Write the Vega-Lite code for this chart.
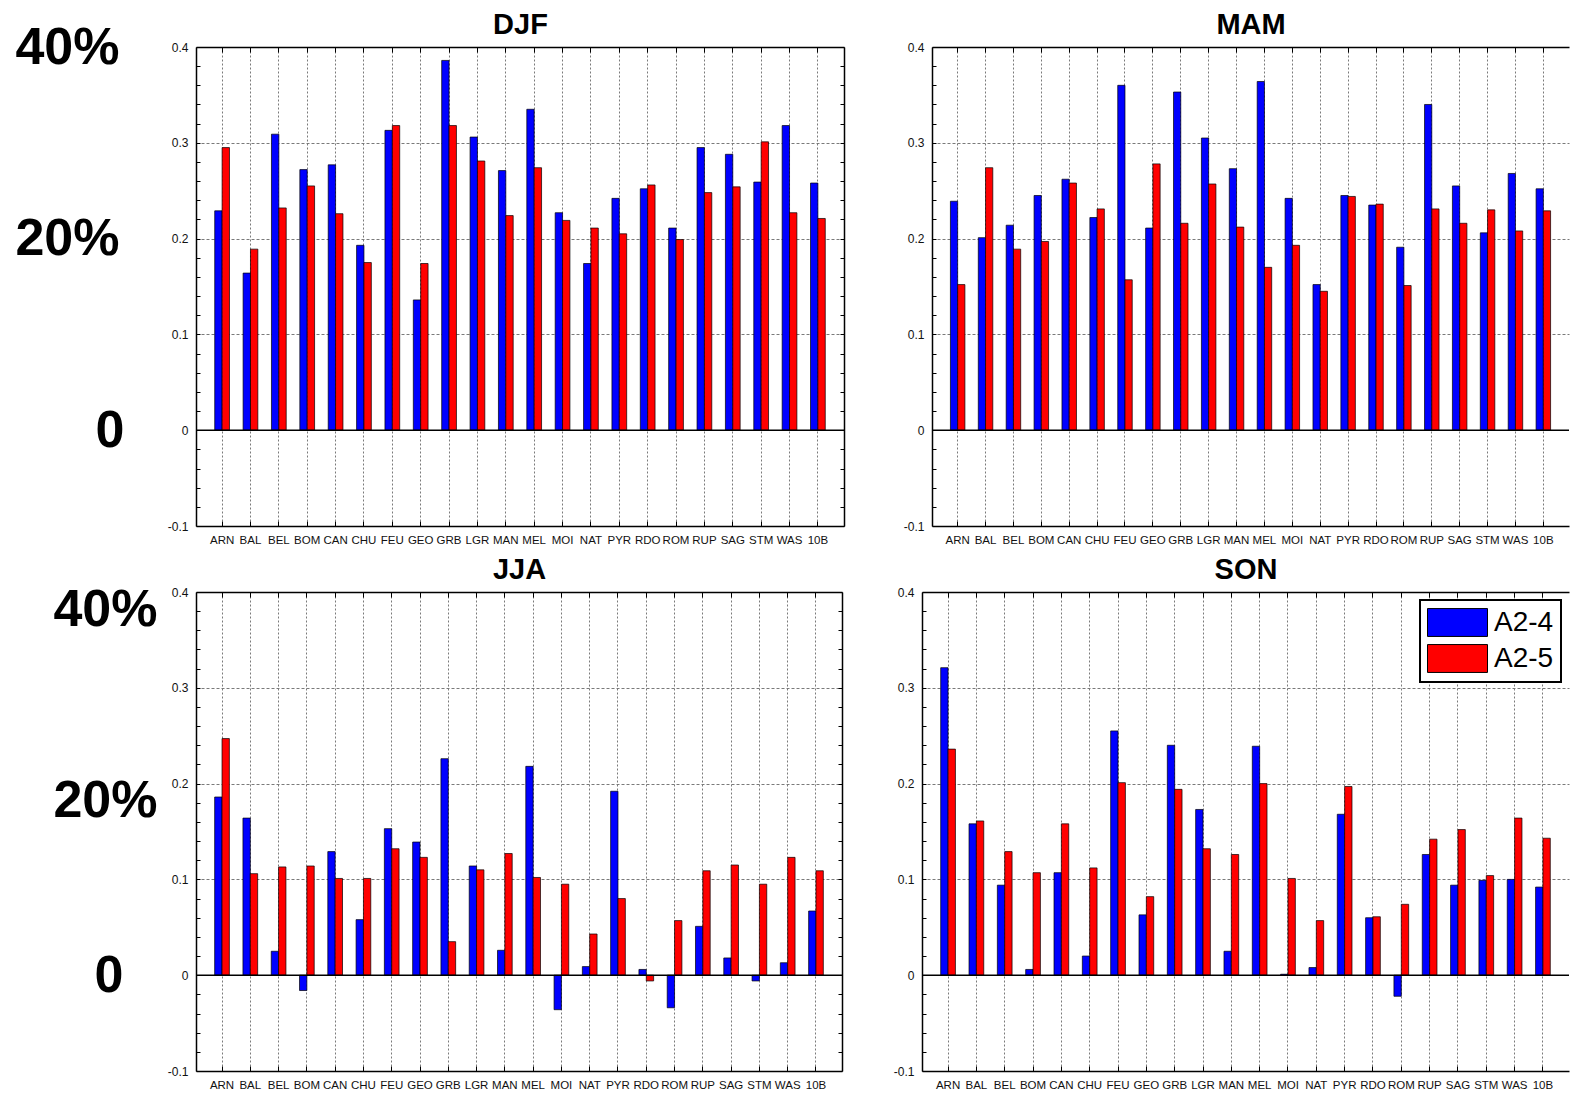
{
"$schema": "https://vega.github.io/schema/vega-lite/v6.json",
"padding": {"left": 0, "top": 10, "right": 0, "bottom": 0},
"config": {"font": "Liberation Sans", "view": {"stroke": null}, "axis": {"labelFont": "Liberation Sans", "titleFont": "Liberation Sans"}, "legend": {"labelFont": "Liberation Sans", "strokeWidth": 2}},
"datasets": {
"DJF": [
{"station":"ARN","run":"A2-4","value":0.229},{"station":"ARN","run":"A2-5","value":0.295},
{"station":"BAL","run":"A2-4","value":0.164},{"station":"BAL","run":"A2-5","value":0.189},
{"station":"BEL","run":"A2-4","value":0.309},{"station":"BEL","run":"A2-5","value":0.232},
{"station":"BOM","run":"A2-4","value":0.272},{"station":"BOM","run":"A2-5","value":0.255},
{"station":"CAN","run":"A2-4","value":0.277},{"station":"CAN","run":"A2-5","value":0.226},
{"station":"CHU","run":"A2-4","value":0.193},{"station":"CHU","run":"A2-5","value":0.175},
{"station":"FEU","run":"A2-4","value":0.313},{"station":"FEU","run":"A2-5","value":0.318},
{"station":"GEO","run":"A2-4","value":0.136},{"station":"GEO","run":"A2-5","value":0.174},
{"station":"GRB","run":"A2-4","value":0.386},{"station":"GRB","run":"A2-5","value":0.318},
{"station":"LGR","run":"A2-4","value":0.306},{"station":"LGR","run":"A2-5","value":0.281},
{"station":"MAN","run":"A2-4","value":0.271},{"station":"MAN","run":"A2-5","value":0.224},
{"station":"MEL","run":"A2-4","value":0.335},{"station":"MEL","run":"A2-5","value":0.274},
{"station":"MOI","run":"A2-4","value":0.227},{"station":"MOI","run":"A2-5","value":0.219},
{"station":"NAT","run":"A2-4","value":0.174},{"station":"NAT","run":"A2-5","value":0.211},
{"station":"PYR","run":"A2-4","value":0.242},{"station":"PYR","run":"A2-5","value":0.205},
{"station":"RDO","run":"A2-4","value":0.252},{"station":"RDO","run":"A2-5","value":0.256},
{"station":"ROM","run":"A2-4","value":0.211},{"station":"ROM","run":"A2-5","value":0.199},
{"station":"RUP","run":"A2-4","value":0.295},{"station":"RUP","run":"A2-5","value":0.248},
{"station":"SAG","run":"A2-4","value":0.288},{"station":"SAG","run":"A2-5","value":0.254},
{"station":"STM","run":"A2-4","value":0.259},{"station":"STM","run":"A2-5","value":0.301},
{"station":"WAS","run":"A2-4","value":0.318},{"station":"WAS","run":"A2-5","value":0.227},
{"station":"10B","run":"A2-4","value":0.258},{"station":"10B","run":"A2-5","value":0.221}
],
"MAM": [
{"station":"ARN","run":"A2-4","value":0.239},{"station":"ARN","run":"A2-5","value":0.152},
{"station":"BAL","run":"A2-4","value":0.201},{"station":"BAL","run":"A2-5","value":0.274},
{"station":"BEL","run":"A2-4","value":0.214},{"station":"BEL","run":"A2-5","value":0.189},
{"station":"BOM","run":"A2-4","value":0.245},{"station":"BOM","run":"A2-5","value":0.197},
{"station":"CAN","run":"A2-4","value":0.262},{"station":"CAN","run":"A2-5","value":0.258},
{"station":"CHU","run":"A2-4","value":0.222},{"station":"CHU","run":"A2-5","value":0.231},
{"station":"FEU","run":"A2-4","value":0.360},{"station":"FEU","run":"A2-5","value":0.157},
{"station":"GEO","run":"A2-4","value":0.211},{"station":"GEO","run":"A2-5","value":0.278},
{"station":"GRB","run":"A2-4","value":0.353},{"station":"GRB","run":"A2-5","value":0.216},
{"station":"LGR","run":"A2-4","value":0.305},{"station":"LGR","run":"A2-5","value":0.257},
{"station":"MAN","run":"A2-4","value":0.273},{"station":"MAN","run":"A2-5","value":0.212},
{"station":"MEL","run":"A2-4","value":0.364},{"station":"MEL","run":"A2-5","value":0.170},
{"station":"MOI","run":"A2-4","value":0.242},{"station":"MOI","run":"A2-5","value":0.193},
{"station":"NAT","run":"A2-4","value":0.152},{"station":"NAT","run":"A2-5","value":0.145},
{"station":"PYR","run":"A2-4","value":0.245},{"station":"PYR","run":"A2-5","value":0.244},
{"station":"RDO","run":"A2-4","value":0.235},{"station":"RDO","run":"A2-5","value":0.236},
{"station":"ROM","run":"A2-4","value":0.191},{"station":"ROM","run":"A2-5","value":0.151},
{"station":"RUP","run":"A2-4","value":0.340},{"station":"RUP","run":"A2-5","value":0.231},
{"station":"SAG","run":"A2-4","value":0.255},{"station":"SAG","run":"A2-5","value":0.216},
{"station":"STM","run":"A2-4","value":0.206},{"station":"STM","run":"A2-5","value":0.230},
{"station":"WAS","run":"A2-4","value":0.268},{"station":"WAS","run":"A2-5","value":0.208},
{"station":"10B","run":"A2-4","value":0.252},{"station":"10B","run":"A2-5","value":0.229}
],
"JJA": [
{"station":"ARN","run":"A2-4","value":0.186},{"station":"ARN","run":"A2-5","value":0.247},
{"station":"BAL","run":"A2-4","value":0.164},{"station":"BAL","run":"A2-5","value":0.106},
{"station":"BEL","run":"A2-4","value":0.025},{"station":"BEL","run":"A2-5","value":0.113},
{"station":"BOM","run":"A2-4","value":-0.016},{"station":"BOM","run":"A2-5","value":0.114},
{"station":"CAN","run":"A2-4","value":0.129},{"station":"CAN","run":"A2-5","value":0.101},
{"station":"CHU","run":"A2-4","value":0.058},{"station":"CHU","run":"A2-5","value":0.101},
{"station":"FEU","run":"A2-4","value":0.153},{"station":"FEU","run":"A2-5","value":0.132},
{"station":"GEO","run":"A2-4","value":0.139},{"station":"GEO","run":"A2-5","value":0.123},
{"station":"GRB","run":"A2-4","value":0.226},{"station":"GRB","run":"A2-5","value":0.035},
{"station":"LGR","run":"A2-4","value":0.114},{"station":"LGR","run":"A2-5","value":0.110},
{"station":"MAN","run":"A2-4","value":0.026},{"station":"MAN","run":"A2-5","value":0.127},
{"station":"MEL","run":"A2-4","value":0.218},{"station":"MEL","run":"A2-5","value":0.102},
{"station":"MOI","run":"A2-4","value":-0.036},{"station":"MOI","run":"A2-5","value":0.095},
{"station":"NAT","run":"A2-4","value":0.009},{"station":"NAT","run":"A2-5","value":0.043},
{"station":"PYR","run":"A2-4","value":0.192},{"station":"PYR","run":"A2-5","value":0.080},
{"station":"RDO","run":"A2-4","value":0.006},{"station":"RDO","run":"A2-5","value":-0.006},
{"station":"ROM","run":"A2-4","value":-0.034},{"station":"ROM","run":"A2-5","value":0.057},
{"station":"RUP","run":"A2-4","value":0.051},{"station":"RUP","run":"A2-5","value":0.109},
{"station":"SAG","run":"A2-4","value":0.018},{"station":"SAG","run":"A2-5","value":0.115},
{"station":"STM","run":"A2-4","value":-0.006},{"station":"STM","run":"A2-5","value":0.095},
{"station":"WAS","run":"A2-4","value":0.013},{"station":"WAS","run":"A2-5","value":0.123},
{"station":"10B","run":"A2-4","value":0.067},{"station":"10B","run":"A2-5","value":0.109}
],
"SON": [
{"station":"ARN","run":"A2-4","value":0.321},{"station":"ARN","run":"A2-5","value":0.236},
{"station":"BAL","run":"A2-4","value":0.158},{"station":"BAL","run":"A2-5","value":0.161},
{"station":"BEL","run":"A2-4","value":0.094},{"station":"BEL","run":"A2-5","value":0.129},
{"station":"BOM","run":"A2-4","value":0.006},{"station":"BOM","run":"A2-5","value":0.107},
{"station":"CAN","run":"A2-4","value":0.107},{"station":"CAN","run":"A2-5","value":0.158},
{"station":"CHU","run":"A2-4","value":0.020},{"station":"CHU","run":"A2-5","value":0.112},
{"station":"FEU","run":"A2-4","value":0.255},{"station":"FEU","run":"A2-5","value":0.201},
{"station":"GEO","run":"A2-4","value":0.063},{"station":"GEO","run":"A2-5","value":0.082},
{"station":"GRB","run":"A2-4","value":0.240},{"station":"GRB","run":"A2-5","value":0.194},
{"station":"LGR","run":"A2-4","value":0.173},{"station":"LGR","run":"A2-5","value":0.132},
{"station":"MAN","run":"A2-4","value":0.025},{"station":"MAN","run":"A2-5","value":0.126},
{"station":"MEL","run":"A2-4","value":0.239},{"station":"MEL","run":"A2-5","value":0.200},
{"station":"MOI","run":"A2-4","value":0.001},{"station":"MOI","run":"A2-5","value":0.101},
{"station":"NAT","run":"A2-4","value":0.008},{"station":"NAT","run":"A2-5","value":0.057},
{"station":"PYR","run":"A2-4","value":0.168},{"station":"PYR","run":"A2-5","value":0.197},
{"station":"RDO","run":"A2-4","value":0.060},{"station":"RDO","run":"A2-5","value":0.061},
{"station":"ROM","run":"A2-4","value":-0.022},{"station":"ROM","run":"A2-5","value":0.074},
{"station":"RUP","run":"A2-4","value":0.126},{"station":"RUP","run":"A2-5","value":0.142},
{"station":"SAG","run":"A2-4","value":0.094},{"station":"SAG","run":"A2-5","value":0.152},
{"station":"STM","run":"A2-4","value":0.099},{"station":"STM","run":"A2-5","value":0.104},
{"station":"WAS","run":"A2-4","value":0.100},{"station":"WAS","run":"A2-5","value":0.164},
{"station":"10B","run":"A2-4","value":0.092},{"station":"10B","run":"A2-5","value":0.143}
]
},
"resolve": {"scale": {"color": "independent", "xOffset": "independent"}},
"spacing": 9,
"vconcat": [
{
"spacing": 57,
"resolve": {"scale": {"color": "independent", "xOffset": "independent"}},
"hconcat": [
{
"width": 648, "height": 479,
"data": {"name": "DJF"},
"resolve": {"axis": {"x": "independent", "y": "independent"}},
"layer": [
{"mark": {"type": "bar", "stroke": "black", "strokeWidth": 0.7},
 "encoding": {
  "x": {"field": "station", "type": "nominal", "scale": {"domain": ["ARN","BAL","BEL","BOM","CAN","CHU","FEU","GEO","GRB","LGR","MAN","MEL","MOI","NAT","PYR","RDO","ROM","RUP","SAG","STM","WAS","10B"], "paddingInner": 0.48, "paddingOuter": 0.66},
   "axis": {"orient": "bottom", "title": null, "labelAngle": 0, "labelFontSize": 11.5, "labelColor": "#111", "labelPadding": 13, "labelOverlap": false, "tickSize": -5, "tickColor": "black", "domainColor": "black", "domainWidth": 1.5, "grid": true, "gridColor": "#7a7a7a", "gridDash": [2, 2], "bandPosition": 0.5}},
  "xOffset": {"field": "run", "type": "nominal", "scale": {"domain": ["A2-4", "A2-5"], "paddingInner": 0, "paddingOuter": 0}},
  "y": {"field": "value", "type": "quantitative", "scale": {"domain": [-0.1, 0.4], "nice": false},
   "axis": {"orient": "left", "title": null, "values": [-0.1,-0.08,-0.06,-0.04,-0.02,0,0.02,0.04,0.06,0.08,0.1,0.12,0.14,0.16,0.18,0.2,0.22,0.24,0.26,0.28,0.3,0.32,0.34,0.36,0.38,0.4], "labelExpr": "indexof([-0.1,0,0.1,0.2,0.3,0.4], datum.value) >= 0 ? '' + datum.value : ''", "labelFontSize": 12, "labelColor": "#111", "labelPadding": 12, "labelOverlap": false, "tickSize": -4, "tickColor": "black", "domainColor": "black", "domainWidth": 1.5, "grid": true, "gridColor": "#7a7a7a", "gridDash": [3, 2], "gridOpacity": {"condition": {"test": "indexof([0.1,0.2,0.3], datum.value) >= 0", "value": 1}, "value": 0}}},
  "color": {"field": "run", "type": "nominal", "scale": {"domain": ["A2-4", "A2-5"], "range": ["#0000ff", "#ff0000"]}, "legend": null}
 }},
{"mark": {"type": "point", "opacity": 0},
 "encoding": {
  "x": {"field": "station", "type": "nominal", "scale": {"domain": ["ARN","BAL","BEL","BOM","CAN","CHU","FEU","GEO","GRB","LGR","MAN","MEL","MOI","NAT","PYR","RDO","ROM","RUP","SAG","STM","WAS","10B"]}, "axis": {"orient": "top", "title": "DJF", "titleFontSize": 29, "titleFontWeight": "bold", "titleColor": "black", "titlePadding": 14, "titleBaseline": "alphabetic", "titleAnchor": "middle", "labels": false, "tickSize": -5, "tickColor": "black", "domainColor": "black", "domainWidth": 1.5, "grid": false, "bandPosition": 0.5, "minExtent": 0, "maxExtent": 0}},
  "y": {"field": "value", "type": "quantitative", "axis": {"orient": "right", "title": null, "labels": false, "values": [-0.1,-0.08,-0.06,-0.04,-0.02,0,0.02,0.04,0.06,0.08,0.1,0.12,0.14,0.16,0.18,0.2,0.22,0.24,0.26,0.28,0.3,0.32,0.34,0.36,0.38,0.4], "tickSize": -4, "tickColor": "black", "domainColor": "black", "domainWidth": 1.5, "grid": false, "minExtent": 0, "maxExtent": 0}}
 }},
{"data": {"values": [{}]}, "mark": {"type": "rule", "color": "black", "strokeWidth": 1.5}, "encoding": {"y": {"datum": 0, "type": "quantitative", "axis": null}}},
{"mark": {"type": "point", "opacity": 0},
 "encoding": {
  "y": {"field": "value", "type": "quantitative", "axis": {"orient": "left", "title": null, "values": [0, 0.2, 0.4], "labelExpr": "datum.value == 0.4 ? '40%' : datum.value == 0.2 ? '20%' : '0'", "labelFontSize": 52, "labelFontWeight": "bold", "labelColor": "black", "labelPadding": {"condition": {"test": "datum.value == 0", "value": 72}, "value": 77}, "labelOverlap": false, "ticks": false, "domain": false, "grid": false, "minExtent": 196, "maxExtent": 260}}
 }}
]
},
{
"width": 637, "height": 479,
"data": {"name": "MAM"},
"resolve": {"axis": {"x": "independent", "y": "independent"}},
"layer": [
{"mark": {"type": "bar", "stroke": "black", "strokeWidth": 0.7},
 "encoding": {
  "x": {"field": "station", "type": "nominal", "scale": {"domain": ["ARN","BAL","BEL","BOM","CAN","CHU","FEU","GEO","GRB","LGR","MAN","MEL","MOI","NAT","PYR","RDO","ROM","RUP","SAG","STM","WAS","10B"], "paddingInner": 0.48, "paddingOuter": 0.66},
   "axis": {"orient": "bottom", "title": null, "labelAngle": 0, "labelFontSize": 11.5, "labelColor": "#111", "labelPadding": 13, "labelOverlap": false, "tickSize": -5, "tickColor": "black", "domainColor": "black", "domainWidth": 1.5, "grid": true, "gridColor": "#7a7a7a", "gridDash": [2, 2], "bandPosition": 0.5}},
  "xOffset": {"field": "run", "type": "nominal", "scale": {"domain": ["A2-4", "A2-5"], "paddingInner": 0, "paddingOuter": 0}},
  "y": {"field": "value", "type": "quantitative", "scale": {"domain": [-0.1, 0.4], "nice": false},
   "axis": {"orient": "left", "title": null, "values": [-0.1,-0.08,-0.06,-0.04,-0.02,0,0.02,0.04,0.06,0.08,0.1,0.12,0.14,0.16,0.18,0.2,0.22,0.24,0.26,0.28,0.3,0.32,0.34,0.36,0.38,0.4], "labelExpr": "indexof([-0.1,0,0.1,0.2,0.3,0.4], datum.value) >= 0 ? '' + datum.value : ''", "labelFontSize": 12, "labelColor": "#111", "labelPadding": 12, "labelOverlap": false, "tickSize": -4, "tickColor": "black", "domainColor": "black", "domainWidth": 1.5, "grid": true, "gridColor": "#7a7a7a", "gridDash": [3, 2], "gridOpacity": {"condition": {"test": "indexof([0.1,0.2,0.3], datum.value) >= 0", "value": 1}, "value": 0}, "minExtent": 30, "maxExtent": 30}},
  "color": {"field": "run", "type": "nominal", "scale": {"domain": ["A2-4", "A2-5"], "range": ["#0000ff", "#ff0000"]}, "legend": null}
 }},
{"mark": {"type": "point", "opacity": 0},
 "encoding": {
  "x": {"field": "station", "type": "nominal", "scale": {"domain": ["ARN","BAL","BEL","BOM","CAN","CHU","FEU","GEO","GRB","LGR","MAN","MEL","MOI","NAT","PYR","RDO","ROM","RUP","SAG","STM","WAS","10B"]}, "axis": {"orient": "top", "title": "MAM", "titleFontSize": 29, "titleFontWeight": "bold", "titleColor": "black", "titlePadding": 14, "titleBaseline": "alphabetic", "titleAnchor": "middle", "labels": false, "tickSize": -5, "tickColor": "black", "domainColor": "black", "domainWidth": 1.5, "grid": false, "bandPosition": 0.5, "minExtent": 0, "maxExtent": 0}},
  "y": {"field": "value", "type": "quantitative", "axis": {"orient": "right", "title": null, "labels": false, "ticks": false, "domain": false, "grid": false, "minExtent": 0, "maxExtent": 0}}
 }},
{"data": {"values": [{}]}, "mark": {"type": "rule", "color": "black", "strokeWidth": 1.5}, "encoding": {"y": {"datum": 0, "type": "quantitative", "axis": null}}}
]
}
]
},
{
"spacing": 49,
"resolve": {"scale": {"color": "independent", "xOffset": "independent"}},
"hconcat": [
{
"width": 646, "height": 479,
"data": {"name": "JJA"},
"resolve": {"axis": {"x": "independent", "y": "independent"}},
"layer": [
{"mark": {"type": "bar", "stroke": "black", "strokeWidth": 0.7},
 "encoding": {
  "x": {"field": "station", "type": "nominal", "scale": {"domain": ["ARN","BAL","BEL","BOM","CAN","CHU","FEU","GEO","GRB","LGR","MAN","MEL","MOI","NAT","PYR","RDO","ROM","RUP","SAG","STM","WAS","10B"], "paddingInner": 0.48, "paddingOuter": 0.66},
   "axis": {"orient": "bottom", "title": null, "labelAngle": 0, "labelFontSize": 11.5, "labelColor": "#111", "labelPadding": 13, "labelOverlap": false, "tickSize": -5, "tickColor": "black", "domainColor": "black", "domainWidth": 1.5, "grid": true, "gridColor": "#7a7a7a", "gridDash": [2, 2], "bandPosition": 0.5}},
  "xOffset": {"field": "run", "type": "nominal", "scale": {"domain": ["A2-4", "A2-5"], "paddingInner": 0, "paddingOuter": 0}},
  "y": {"field": "value", "type": "quantitative", "scale": {"domain": [-0.1, 0.4], "nice": false},
   "axis": {"orient": "left", "title": null, "values": [-0.1,-0.08,-0.06,-0.04,-0.02,0,0.02,0.04,0.06,0.08,0.1,0.12,0.14,0.16,0.18,0.2,0.22,0.24,0.26,0.28,0.3,0.32,0.34,0.36,0.38,0.4], "labelExpr": "indexof([-0.1,0,0.1,0.2,0.3,0.4], datum.value) >= 0 ? '' + datum.value : ''", "labelFontSize": 12, "labelColor": "#111", "labelPadding": 12, "labelOverlap": false, "tickSize": -4, "tickColor": "black", "domainColor": "black", "domainWidth": 1.5, "grid": true, "gridColor": "#7a7a7a", "gridDash": [3, 2], "gridOpacity": {"condition": {"test": "indexof([0.1,0.2,0.3], datum.value) >= 0", "value": 1}, "value": 0}}},
  "color": {"field": "run", "type": "nominal", "scale": {"domain": ["A2-4", "A2-5"], "range": ["#0000ff", "#ff0000"]}, "legend": null}
 }},
{"mark": {"type": "point", "opacity": 0},
 "encoding": {
  "x": {"field": "station", "type": "nominal", "scale": {"domain": ["ARN","BAL","BEL","BOM","CAN","CHU","FEU","GEO","GRB","LGR","MAN","MEL","MOI","NAT","PYR","RDO","ROM","RUP","SAG","STM","WAS","10B"]}, "axis": {"orient": "top", "title": "JJA", "titleFontSize": 29, "titleFontWeight": "bold", "titleColor": "black", "titlePadding": 14, "titleBaseline": "alphabetic", "titleAnchor": "middle", "labels": false, "tickSize": -5, "tickColor": "black", "domainColor": "black", "domainWidth": 1.5, "grid": false, "bandPosition": 0.5, "minExtent": 0, "maxExtent": 0}},
  "y": {"field": "value", "type": "quantitative", "axis": {"orient": "right", "title": null, "labels": false, "values": [-0.1,-0.08,-0.06,-0.04,-0.02,0,0.02,0.04,0.06,0.08,0.1,0.12,0.14,0.16,0.18,0.2,0.22,0.24,0.26,0.28,0.3,0.32,0.34,0.36,0.38,0.4], "tickSize": -4, "tickColor": "black", "domainColor": "black", "domainWidth": 1.5, "grid": false, "minExtent": 0, "maxExtent": 0}}
 }},
{"data": {"values": [{}]}, "mark": {"type": "rule", "color": "black", "strokeWidth": 1.5}, "encoding": {"y": {"datum": 0, "type": "quantitative", "axis": null}}},
{"mark": {"type": "point", "opacity": 0},
 "encoding": {
  "y": {"field": "value", "type": "quantitative", "axis": {"orient": "left", "title": null, "values": [0, 0.2, 0.4], "labelExpr": "datum.value == 0.4 ? '40%' : datum.value == 0.2 ? '20%' : '0'", "labelFontSize": 52, "labelFontWeight": "bold", "labelColor": "black", "labelPadding": {"condition": {"test": "datum.value == 0", "value": 73}, "value": 39}, "labelOffset": {"condition": {"test": "datum.value == 0", "value": 0}, "value": 17}, "labelOverlap": false, "ticks": false, "domain": false, "grid": false, "minExtent": 196, "maxExtent": 260}}
 }}
]
},
{
"width": 647, "height": 479,
"data": {"name": "SON"},
"resolve": {"axis": {"x": "independent", "y": "independent"}},
"layer": [
{"mark": {"type": "bar", "stroke": "black", "strokeWidth": 0.7},
 "encoding": {
  "x": {"field": "station", "type": "nominal", "scale": {"domain": ["ARN","BAL","BEL","BOM","CAN","CHU","FEU","GEO","GRB","LGR","MAN","MEL","MOI","NAT","PYR","RDO","ROM","RUP","SAG","STM","WAS","10B"], "paddingInner": 0.48, "paddingOuter": 0.66},
   "axis": {"orient": "bottom", "title": null, "labelAngle": 0, "labelFontSize": 11.5, "labelColor": "#111", "labelPadding": 13, "labelOverlap": false, "tickSize": -5, "tickColor": "black", "domainColor": "black", "domainWidth": 1.5, "grid": true, "gridColor": "#7a7a7a", "gridDash": [2, 2], "bandPosition": 0.5}},
  "xOffset": {"field": "run", "type": "nominal", "scale": {"domain": ["A2-4", "A2-5"], "paddingInner": 0, "paddingOuter": 0}},
  "y": {"field": "value", "type": "quantitative", "scale": {"domain": [-0.1, 0.4], "nice": false},
   "axis": {"orient": "left", "title": null, "values": [-0.1,-0.08,-0.06,-0.04,-0.02,0,0.02,0.04,0.06,0.08,0.1,0.12,0.14,0.16,0.18,0.2,0.22,0.24,0.26,0.28,0.3,0.32,0.34,0.36,0.38,0.4], "labelExpr": "indexof([-0.1,0,0.1,0.2,0.3,0.4], datum.value) >= 0 ? '' + datum.value : ''", "labelFontSize": 12, "labelColor": "#111", "labelPadding": 12, "labelOverlap": false, "tickSize": -4, "tickColor": "black", "domainColor": "black", "domainWidth": 1.5, "grid": true, "gridColor": "#7a7a7a", "gridDash": [3, 2], "gridOpacity": {"condition": {"test": "indexof([0.1,0.2,0.3], datum.value) >= 0", "value": 1}, "value": 0}, "minExtent": 30, "maxExtent": 30}},
  "color": {"field": "run", "type": "nominal", "scale": {"domain": ["A2-4", "A2-5"], "range": ["#0000ff", "#ff0000"]},
   "legend": {"title": null, "orient": "top-right", "offset": 8, "symbolType": "M-1,-0.93H3V0.93H-1Z", "symbolSize": 900, "symbolStrokeColor": "black", "symbolStrokeWidth": 1, "symbolOpacity": 1, "labelFontSize": 28, "labelColor": "black", "labelOffset": 36, "rowPadding": 3, "padding": 7, "strokeColor": "black", "fillColor": "white"}}
 }},
{"mark": {"type": "point", "opacity": 0},
 "encoding": {
  "x": {"field": "station", "type": "nominal", "scale": {"domain": ["ARN","BAL","BEL","BOM","CAN","CHU","FEU","GEO","GRB","LGR","MAN","MEL","MOI","NAT","PYR","RDO","ROM","RUP","SAG","STM","WAS","10B"]}, "axis": {"orient": "top", "title": "SON", "titleFontSize": 29, "titleFontWeight": "bold", "titleColor": "black", "titlePadding": 14, "titleBaseline": "alphabetic", "titleAnchor": "middle", "labels": false, "tickSize": -5, "tickColor": "black", "domainColor": "black", "domainWidth": 1.5, "grid": false, "bandPosition": 0.5, "minExtent": 0, "maxExtent": 0}},
  "y": {"field": "value", "type": "quantitative", "axis": {"orient": "right", "title": null, "labels": false, "ticks": false, "domain": false, "grid": false, "minExtent": 0, "maxExtent": 0}}
 }},
{"data": {"values": [{}]}, "mark": {"type": "rule", "color": "black", "strokeWidth": 1.5}, "encoding": {"y": {"datum": 0, "type": "quantitative", "axis": null}}}
]
}
]
}
]
}
